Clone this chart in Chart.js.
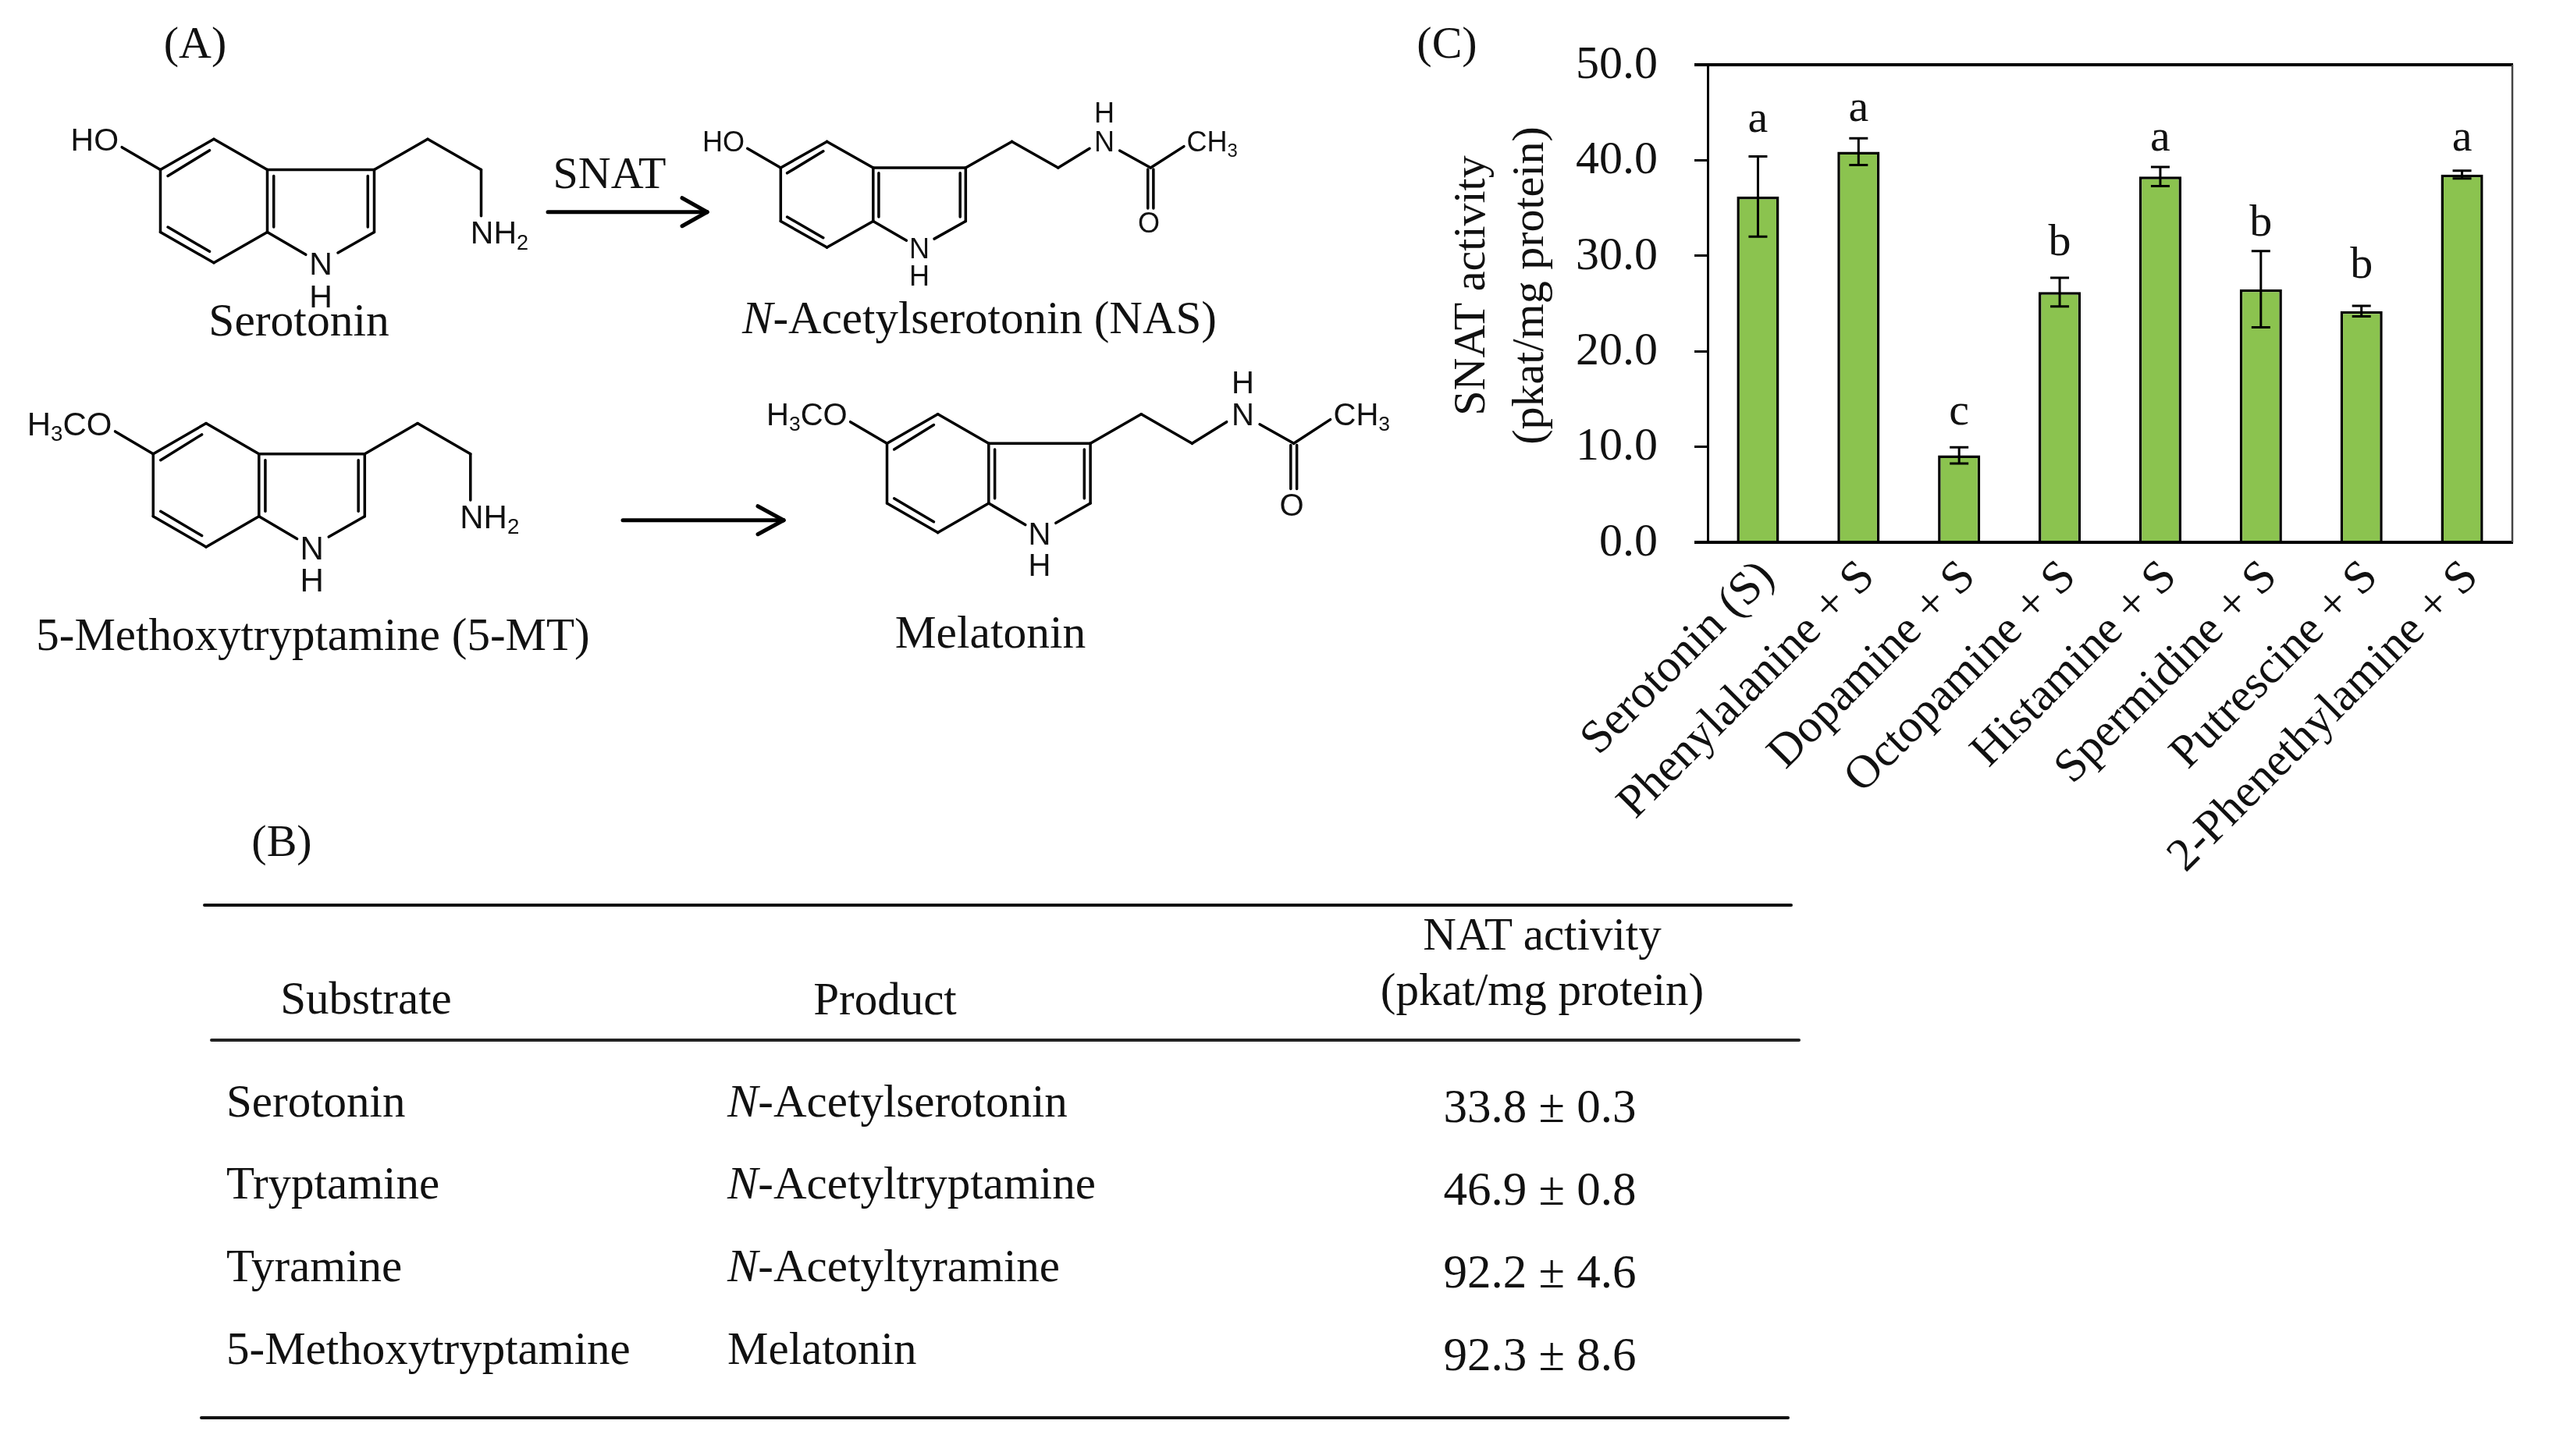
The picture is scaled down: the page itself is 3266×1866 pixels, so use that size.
<!DOCTYPE html>
<html>
<head>
<meta charset="utf-8">
<style>
html,body{margin:0;padding:0;background:#fff;width:3266px;height:1866px;overflow:hidden}
#wrap{position:relative;width:3266px;height:1866px}
canvas,svg{position:absolute;left:0;top:0}
svg{pointer-events:none}
</style>
<script src="https://cdn.jsdelivr.net/npm/chart.js@4/dist/chart.umd.min.js"></script>
</head>
<body>
<div id="wrap">
<canvas id="c" width="3266" height="1866"></canvas>
<svg id="s" width="3266" height="1866" xmlns="http://www.w3.org/2000/svg"></svg>
</div>
<script>
// ---- Panel C data ----
const categories = ["Serotonin (S)","Phenylalanine + S","Dopamine + S","Octopamine + S","Histamine + S","Spermidine + S","Putrescine + S","2-Phenethylamine + S"];
const activity   = [36.2,40.9,9.1,26.2,38.3,26.5,24.2,38.5];
const errors     = [4.2,1.4,0.85,1.5,1.0,4.0,0.55,0.4];
const letters    = ["a","a","c","b","a","b","b","a"];
const letterAt   = [43.0,44.1,12.3,30.1,41.05,32.1,27.7,41.05];
const yTickStep  = 10;
const yAxisTitle = ["SNAT activity","(pkat/mg protein)"];

// ---- Panel B data ----
const tableSubstrates = ["Serotonin","Tryptamine","Tyramine","5-Methoxytryptamine"];
const tableProducts   = ["<I>N</I>-Acetylserotonin","<I>N</I>-Acetyltryptamine","<I>N</I>-Acetyltyramine","Melatonin"];
const tableActivity   = ["33.8 ± 0.3","46.9 ± 0.8","92.2 ± 4.6","92.3 ± 8.6"];

const SERIF = '"Liberation Serif","Times New Roman",serif';
const INK = '#111';

const errorBars = {
  id:'errorBars',
  afterDatasetsDraw(chart){
    const {ctx,scales:{y}} = chart, meta = chart.getDatasetMeta(0);
    ctx.save();
    ctx.strokeStyle = '#000'; ctx.lineWidth = 3;
    meta.data.forEach((bar,i)=>{
      const hi = y.getPixelForValue(activity[i]+errors[i]), lo = y.getPixelForValue(activity[i]-errors[i]);
      ctx.beginPath();
      ctx.moveTo(bar.x,hi); ctx.lineTo(bar.x,lo);
      ctx.moveTo(bar.x-12,hi); ctx.lineTo(bar.x+12,hi);
      ctx.moveTo(bar.x-12,lo); ctx.lineTo(bar.x+12,lo);
      ctx.stroke();
    });
    ctx.fillStyle = INK; ctx.font = '58px '+SERIF; ctx.textAlign='center'; ctx.textBaseline='alphabetic';
    meta.data.forEach((bar,i)=>ctx.fillText(letters[i],bar.x,y.getPixelForValue(letterAt[i])));
    ctx.restore();
  }
};
const frame = {
  id:'frame',
  afterDraw(chart){
    const {ctx,chartArea:a} = chart;
    ctx.save();
    ctx.strokeStyle='#000'; ctx.lineWidth=4;
    ctx.beginPath(); ctx.moveTo(a.left-17,a.top); ctx.lineTo(a.right+1,a.top); ctx.stroke();
    ctx.beginPath(); ctx.moveTo(a.left-17,a.bottom); ctx.lineTo(a.right+1,a.bottom); ctx.stroke();
    ctx.strokeStyle='#444'; ctx.lineWidth=2.5;
    ctx.beginPath(); ctx.moveTo(a.right,a.top); ctx.lineTo(a.right,a.bottom); ctx.stroke();
    // y-axis title, two centred lines read bottom-to-top
    ctx.fillStyle=INK; ctx.font='58px '+SERIF; ctx.textAlign='center'; ctx.textBaseline='middle';
    [1887,1962].forEach((x,i)=>{
      ctx.save(); ctx.translate(x,366); ctx.rotate(-Math.PI/2);
      ctx.fillText(yAxisTitle[i],0,0); ctx.restore();
    });
    ctx.restore();
  }
};

new Chart(document.getElementById('c'),{
  type:'bar',
  data:{labels:categories,datasets:[{
    data:activity,backgroundColor:'#8BC34F',borderColor:'#000',borderWidth:3.5,
    barPercentage:0.42,categoryPercentage:1
  }]},
  plugins:[errorBars,frame],
  options:{
    responsive:false,animation:false,devicePixelRatio:1,
    layout:{padding:{left:1850,right:47,top:83,bottom:10}},
    plugins:{legend:{display:false},tooltip:{enabled:false},title:{display:false}},
    scales:{
      x:{
        afterFit(s){s.height=1866-695-10;},
        grid:{display:false,drawTicks:false},
        border:{display:false},
        ticks:{autoSkip:false,maxRotation:45,minRotation:45,color:INK,font:{family:SERIF,size:60},padding:10,labelOffset:12}
      },
      y:{
        min:0,max:50,
        afterFit(s){s.width=2188-1850;},
        grid:{drawOnChartArea:false,tickLength:17,tickColor:'#000',tickWidth:3},
        border:{display:true,color:'#000',width:3},
        ticks:{stepSize:yTickStep,color:INK,padding:47,labelOffset:1,font:{family:SERIF,size:60},callback:v=>Number(v).toFixed(1)}
      }
    }
  }
});

// ---- Panels A and B (SVG overlay) ----
let out = '';
function T(str,x,y,size,anchor,fam){
  out += `<text x="${x}" y="${y}" font-size="${size}" text-anchor="${anchor||'start'}" font-family='${fam||SERIF}' fill="${INK}">${str}</text>`;
}
function L(x1,y1,x2,y2,w,c){
  out += `<line x1="${x1}" y1="${y1}" x2="${x2}" y2="${y2}" stroke="${c||'#000'}" stroke-width="${w}" stroke-linecap="round"/>`;
}
const SANS = '"Liberation Sans",Arial,sans-serif';
const ringBonds = [
 [0,0,.5,-.49],[.5,-.49,1,0],[1,0,1,1],[1,1,.5,1.49],[.5,1.49,0,1],[0,1,0,0],[1,0,2,0],[2,0,2,1],
 [1,1,1.36,1.36],[2,1,1.66,1.33],[.07,.1,.46,-.31],[.07,.92,.46,1.31],[1.06,.1,1.06,.92],[1.94,.1,1.94,.92],
 [2,0,2.5,-.49],[2.5,-.49,3,0],[0,0,-.36,-.36]
];
const amineBonds  = [[3,0,3,.74]];
const acetylBonds = [[3,0,3.34,-.36],[3.665,-.32,4,0],[4,0,4.36,-.40],[3.97,.03,3.97,.76],[4.03,.03,4.03,.76]];
function mol(x0,y0,W,H,fs,lead,acetyl){
  const X=v=>x0+v*W, Y=v=>y0+v*H;
  ringBonds.concat(acetyl?acetylBonds:amineBonds).forEach(b=>L(X(b[0]),Y(b[1]),X(b[2]),Y(b[3]),3.5));
  const bl=fs*.36, sub=s=>`<tspan font-size="${fs*.66}" dy="${fs*.18}">${s}</tspan>`;
  T(lead==='HO'?'HO':`H${sub(3)}<tspan dy="${-fs*.18}">CO</tspan>`,X(-.39),Y(-.49)+bl,fs,'end',SANS);
  T('N',X(1.5),Y(1.5)+bl,fs,'middle',SANS);
  T('H',X(1.5),Y(2.02)+bl,fs,'middle',SANS);
  if(acetyl){
    T('N',X(3.5),Y(-.49)+bl,fs,'middle',SANS);
    T('H',X(3.5),Y(-1.03)+bl,fs,'middle',SANS);
    T('O',X(3.98),Y(1.02)+bl,fs,'middle',SANS);
    T(`CH${sub(3)}`,X(4.39),Y(-.49)+bl,fs,'start',SANS);
  }else{
    T(`NH${sub(2)}`,X(2.9),Y(1)+bl,fs,'start',SANS);
  }
}
mol(205.5,217.5,137,80,41,'HO',false);
mol(1000.3,215,118.5,68.5,36,'HO',true);
mol(196.3,581.7,135.5,80,42,'MeO',false);
mol(1136.5,568.3,130.3,76.7,40,'MeO',true);

function arrow(x1,x2,y,xb,dy){
  L(x1,y,x2,y,5); L(xb,y-dy,x2,y,5); L(xb,y+dy,x2,y,5);
}
arrow(702,906,271.7,874,18);
arrow(798,1004,666.7,971,18);

T('(A)',250,74,58,'middle');
T('(B)',361,1097,58,'middle');
T('(C)',1854,74,58,'middle');
T('SNAT',781,241,58,'middle');
T('Serotonin',383,430,59.5,'middle');
T('<tspan font-style="italic">N</tspan>-Acetylserotonin (NAS)',1255,427,59,'middle');
T('5-Methoxytryptamine (5-MT)',401,833,59,'middle');
T('Melatonin',1269,830,59.5,'middle');

L(262,1160,2295,1160,4,'#111');
L(271,1333,2305,1333,4,'#222');
L(258,1817,2291,1817,4,'#111');
T('Substrate',469,1299,59,'middle');
T('Product',1134,1300,59,'middle');
T('NAT activity',1976,1217,59,'middle');
T('(pkat/mg protein)',1976,1288,59,'middle');
const rowBase=[1431,1536,1642,1748], valBase=[1438,1544,1650,1756];
tableSubstrates.forEach((t,i)=>T(t,290,rowBase[i],59));
tableProducts.forEach((t,i)=>T(t.replace('<I>','<tspan font-style="italic">').replace('</I>','</tspan>'),932,rowBase[i],59));
tableActivity.forEach((t,i)=>T(t,1973,valBase[i],61,'middle'));
document.getElementById('s').innerHTML = out;
</script>
</body>
</html>
